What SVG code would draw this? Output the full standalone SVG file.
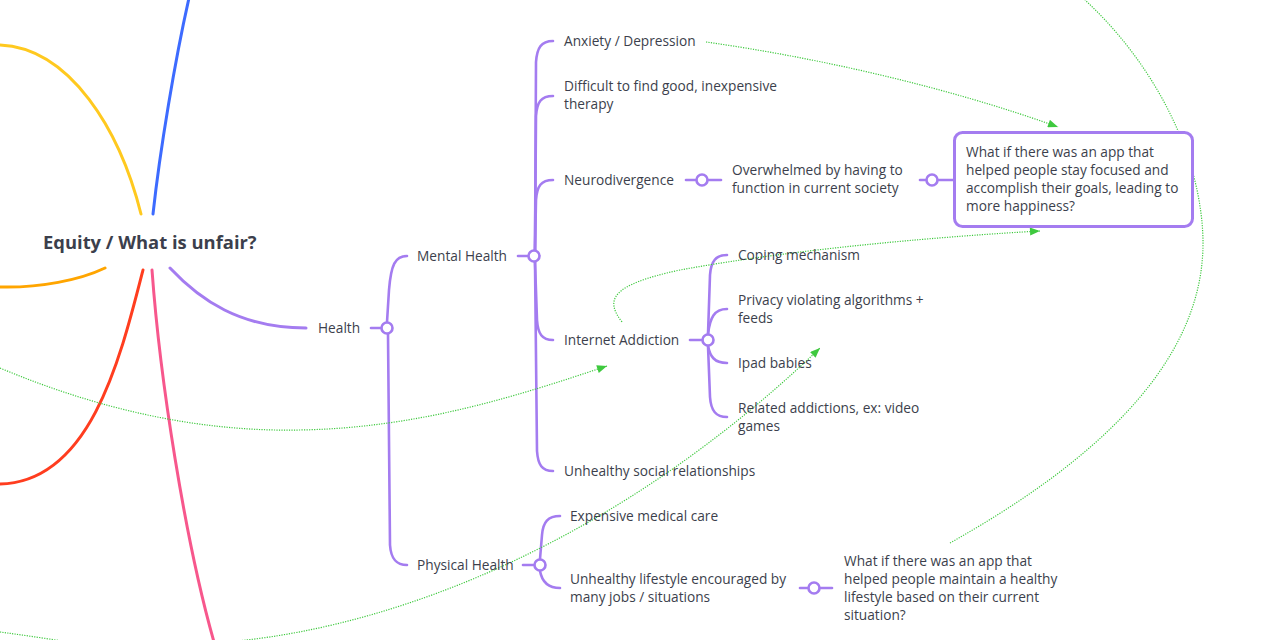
<svg xmlns="http://www.w3.org/2000/svg" width="1264" height="640" viewBox="0 0 1264 640">
<style>
.t{font-family:"Open Sans","Liberation Sans",sans-serif;font-size:13.7px;fill:#3c3f4c}
.title{font-family:"Open Sans","Liberation Sans",sans-serif;font-size:18.4px;font-weight:bold;fill:#3c3f4c}
.p{fill:none;stroke:#a47cf0;stroke-width:2.6;stroke-linecap:round}
.c{fill:#fff;stroke:#a47cf0;stroke-width:2.6}
.main{fill:none;stroke-width:3;stroke-linecap:round}
.rel{fill:none;stroke:#3ec93e;stroke-width:1.2;stroke-dasharray:1.2 1.3}
</style>
<defs>
<marker id="arr" viewBox="0 0 10 8" refX="10" refY="4" markerWidth="11" markerHeight="8" markerUnits="userSpaceOnUse" orient="auto">
<path d="M0,0 L10,4 L0,8 z" fill="#3ec93e"/>
</marker>
</defs>
<rect width="1264" height="640" fill="#fff"/>

<g id="connectors">
<!-- main branches -->
<path class="main" stroke="#ffc91f" d="M141,214 C 120,130 70,48 0,45"/>
<path class="main" stroke="#3d6bff" d="M153,214 C 160,150 175,60 189,-2"/>
<path class="main" stroke="#ffa500" d="M105,268 C 80,280 40,288 0,287"/>
<path class="main" stroke="#ff3d1f" d="M143,270 C 120,360 90,482 0,484"/>
<path class="main" stroke="#f7578c" d="M152,270 C 160,380 185,540 214,642"/>
<path class="main" stroke="#a47cf0" d="M170,268 C 200,300 240,328 306,328"/>

<!-- Health -->
<path class="p" d="M371,328 L381,328"/>
<path class="p" d="M387,322 L389,290 C 391,265 395,256 407,256"/>
<path class="p" d="M388,334 L390,545 C 391,560 397,565 407,565"/>
<circle class="c" cx="387" cy="328" r="5.5"/>

<!-- Mental Health -->
<path class="p" d="M518,256 L528,256"/>
<path class="p" d="M535,250 L536,62 C 537,48 541,41 553,41"/>
<path class="p" d="M535,250 L536,116 C 537,102 541,96 553,96"/>
<path class="p" d="M535,250 L536,200 C 537,186 541,180 553,180"/>
<path class="p" d="M535,262 L537,320 C 538,334 542,340 553,340"/>
<path class="p" d="M535,262 L537,451 C 538,465 542,471 553,471"/>
<circle class="c" cx="534" cy="256" r="5.5"/>

<!-- Neurodivergence -->
<path class="p" d="M686,180 L721,180"/>
<circle class="c" cx="702" cy="180" r="5.5"/>
<path class="p" d="M920,180 L953,180"/>
<circle class="c" cx="932" cy="180" r="5.5"/>

<!-- Internet Addiction -->
<path class="p" d="M690,340 L702,340"/>
<path class="p" d="M708,334 L710,275 C 711,261 716,255 727,255"/>
<path class="p" d="M708,334 C 710,318 714,309 727,309"/>
<path class="p" d="M708,346 C 710,356 714,363 727,363"/>
<path class="p" d="M708,346 L710,397 C 711,411 716,417 727,417"/>
<circle class="c" cx="708" cy="340" r="5.5"/>

<!-- Physical Health -->
<path class="p" d="M523,565 L534,565"/>
<path class="p" d="M540,559 L542,535 C 543,522 548,516 560,516"/>
<path class="p" d="M540,571 C 542,582 548,588 560,588"/>
<circle class="c" cx="540" cy="565" r="5.5"/>
<path class="p" d="M800,588 L832,588"/>
<circle class="c" cx="814" cy="588" r="5.5"/>

<!-- relationships -->
<path class="rel" marker-end="url(#arr)" d="M706,42 C 820,58 950,88 1058,127"/>
<path class="rel" marker-end="url(#arr)" d="M622,322 C 605,300 610,285 680,270 C 800,248 950,236 1040,231"/>
<path class="rel" marker-end="url(#arr)" d="M0,368 C 100,410 200,432 300,430 C 420,428 520,395 607,366"/>
<path class="rel" d="M950,543 C 1080,470 1205,370 1203,240 C 1201,150 1150,60 1085,0"/>
<path class="rel" marker-end="url(#arr)" d="M237,641 C 400,625 620,540 820,348"/>
<path class="rel" d="M0,632 Q 30,636 62,641"/>
</g>

<g id="root"><text class="title" x="43" y="248.5">Equity / What is unfair?</text></g>
<g id="health"><text class="t" x="318" y="332.5">Health</text></g>
<g id="mental-health"><text class="t" x="417" y="260.5">Mental Health</text></g>
<g id="physical-health"><text class="t" x="417" y="569.5">Physical Health</text></g>
<g id="anxiety"><text class="t" x="564" y="45.5">Anxiety / Depression</text></g>
<g id="therapy"><text class="t" x="564" y="90.5">Difficult to find good, inexpensive</text><text class="t" x="564" y="108.5">therapy</text></g>
<g id="neurodivergence"><text class="t" x="564" y="184.5">Neurodivergence</text></g>
<g id="overwhelmed"><text class="t" x="732" y="174.5">Overwhelmed by having to</text><text class="t" x="732" y="192.5">function in current society</text></g>
<g id="app-focus">
<rect x="954.5" y="132.5" width="238" height="94" rx="8" fill="#fff" stroke="#a47cf0" stroke-width="3"/>
<text class="t" x="966" y="156.5">What if there was an app that</text>
<text class="t" x="966" y="174.5">helped people stay focused and</text>
<text class="t" x="966" y="192.5">accomplish their goals, leading to</text>
<text class="t" x="966" y="210.5">more happiness?</text>
</g>
<g id="internet-addiction"><text class="t" x="564" y="344.5">Internet Addiction</text></g>
<g id="coping"><text class="t" x="738" y="259.5">Coping mechanism</text></g>
<g id="privacy"><text class="t" x="738" y="304.5">Privacy violating algorithms +</text><text class="t" x="738" y="322.5">feeds</text></g>
<g id="ipad"><text class="t" x="738" y="367.5">Ipad babies</text></g>
<g id="related"><text class="t" x="738" y="412.5">Related addictions, ex: video</text><text class="t" x="738" y="430.5">games</text></g>
<g id="social"><text class="t" x="564" y="475.5">Unhealthy social relationships</text></g>
<g id="medical"><text class="t" x="570" y="520.5">Expensive medical care</text></g>
<g id="lifestyle"><text class="t" x="570" y="583.5">Unhealthy lifestyle encouraged by</text><text class="t" x="570" y="601.5">many jobs / situations</text></g>
<g id="app-healthy">
<text class="t" x="844" y="565.5">What if there was an app that</text>
<text class="t" x="844" y="583.5">helped people maintain a healthy</text>
<text class="t" x="844" y="601.5">lifestyle based on their current</text>
<text class="t" x="844" y="619.5">situation?</text>
</g>
</svg>
